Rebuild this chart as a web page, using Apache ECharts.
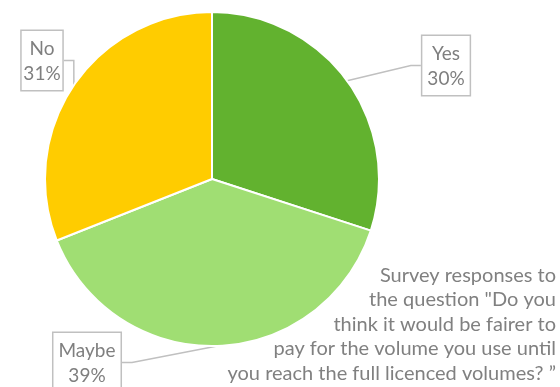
<!DOCTYPE html>
<html>
<head>
<meta charset="utf-8">
<script src="https://cdn.jsdelivr.net/npm/echarts@6/dist/echarts.min.js"></script>
<style>
  html, body { margin: 0; padding: 0; background: #fff; }
  #chart { width: 560px; height: 387px; }
</style>
</head>
<body>
<div id="chart"></div>
<script>
// Survey answers and their shares (percent)
const categories = ['Yes', 'Maybe', 'No'];
const shares = [30, 39, 31];
const sliceColors = ['#62b22f', '#a0de73', '#ffcc00'];
const noteLines = [
  'Survey responses to',
  'the question "Do you',
  'think it would be fairer to',
  'pay for the volume you use until',
  'you reach the full licenced volumes? \u201d'
];

// Where each callout box sits (top-centre of the box)
const calloutSpots = {
  Yes:   { x: 446, y: 36 },
  Maybe: { x: 87,  y: 333 },
  No:    { x: 42,  y: 31 }
};

const chart = echarts.init(document.getElementById('chart'));
const fontFamily = 'Lato, "Open Sans", sans-serif';

chart.setOption({
  animation: false,
  backgroundColor: '#ffffff',
  color: sliceColors,
  graphic: [{
    type: 'text',
    right: 4,
    top: 263,
    style: {
      text: noteLines.join('\n'),
      textAlign: 'right',
      fill: '#808080',
      font: '20px ' + fontFamily,
      lineHeight: 24.5
    }
  }],
  series: [{
    type: 'pie',
    center: [212, 179],
    radius: 167,
    startAngle: 90,
    clockwise: true,
    itemStyle: { borderColor: '#ffffff', borderWidth: 2 },
    label: {
      show: true,
      formatter: p => p.name + '\n' + p.value + '%',
      color: '#7f7f7f',
      fontFamily: fontFamily,
      fontSize: 19,
      lineHeight: 25,
      overflow: 'none',
      align: 'center',
      verticalAlign: 'top',
      backgroundColor: '#ffffff',
      borderColor: '#c0c0c0',
      borderWidth: 1.5,
      padding: [5, 5, 4, 5]
    },
    labelLine: {
      show: true,
      length: 10,
      length2: 10,
      lineStyle: { color: '#c0c0c0', width: 1.5 }
    },
    labelLayout: params => {
      const name = categories[params.dataIndex];
      const spot = calloutSpots[name];
      return { x: spot.x, y: spot.y, align: 'center', verticalAlign: 'top' };
    },
    data: categories.map((c, i) => ({ name: c, value: shares[i] }))
  }]
});
</script>
</body>
</html>
